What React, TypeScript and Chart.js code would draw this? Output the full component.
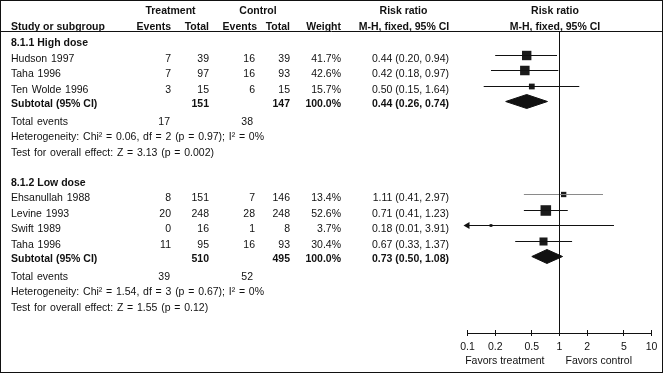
import React, { useEffect, useRef } from "react";
import { Chart, registerables } from "chart.js";

Chart.register(...registerables);

// ---------------- data ----------------
const groupNames = ["8.1.1 High dose", "8.1.2 Low dose"];

const studyNames = [
  "Hudson 1997",
  "Taha 1996",
  "Ten Wolde 1996",
  "Ehsanullah 1988",
  "Levine 1993",
  "Swift 1989",
  "Taha 1996",
];
const studyGroup = [0, 0, 0, 1, 1, 1, 1];
const trtEvents = [7, 7, 3, 8, 20, 0, 11];
const trtTotal = [39, 97, 15, 151, 248, 16, 95];
const ctlEvents = [16, 16, 6, 7, 28, 1, 16];
const ctlTotal = [39, 93, 15, 146, 248, 8, 93];
const weights = [41.7, 42.6, 15.7, 13.4, 52.6, 3.7, 30.4];
const riskRatio = [0.44, 0.42, 0.5, 1.11, 0.71, 0.18, 0.67];
const ciLow = [0.2, 0.18, 0.15, 0.41, 0.41, 0.01, 0.33];
const ciHigh = [0.94, 0.97, 1.64, 2.97, 1.23, 3.91, 1.37];

const subTrtTotal = [151, 510];
const subCtlTotal = [147, 495];
const subWeight = [100.0, 100.0];
const subRR = [0.44, 0.73];
const subLow = [0.26, 0.5];
const subHigh = [0.74, 1.08];
const totTrtEvents = [17, 39];
const totCtlEvents = [38, 52];
const hetChi2 = ["0.06", "1.54"];
const hetDf = [2, 3];
const hetP = ["0.97", "0.67"];
const hetI2 = [0, 0];
const zValue = ["3.13", "1.55"];
const zP = ["0.002", "0.12"];

const axisTicks = [0.1, 0.2, 0.5, 1, 2, 5, 10];
const axisMin = 0.1;
const axisMax = 10;

// ---------------- layout ----------------
const W = 664;
const H = 374;
const PLOT_LEFT = 467.5;
const PLOT_RIGHT = 651.5;
const PLOT_TOP = 31;
const PLOT_BOTTOM = 333;
const ROW0_PX = 39.8;
const ROW_PX = 15.5;
const YMIN = (PLOT_TOP - ROW0_PX) / ROW_PX;
const YMAX = (PLOT_BOTTOM - ROW0_PX) / ROW_PX;
const FONT = "'Liberation Sans', Arial, Helvetica, sans-serif";
const FS = 10.5;
const INK = "#111";

const COL_STUDY = 11;
const COL_TE = 171;
const COL_TT = 209;
const COL_CE = 255;
const COL_CT = 290;
const COL_W = 341;
const COL_RR = 449;

type Row = {
  kind: "group" | "study" | "subtotal" | "total" | "het" | "test";
  g: number;
  i: number;
  pos: number;
};

// snap a row position so that its 1px rules fall on a pixel centre
const snap = (pos: number) => (Math.floor(ROW0_PX + pos * ROW_PX) + 0.5 - ROW0_PX) / ROW_PX;

function buildRows(): Row[] {
  const rows: Row[] = [];
  let pos = 0;
  const add = (kind: Row["kind"], g: number, i: number) => rows.push({ kind, g, i, pos: snap(pos) });
  groupNames.forEach((_, g) => {
    if (g > 0) pos += 1.95;
    add("group", g, -1);
    studyNames.forEach((_, i) => {
      if (studyGroup[i] === g) {
        pos += 1;
        add("study", g, i);
      }
    });
    pos += 0.95;
    add("subtotal", g, -1);
    pos += 1.1;
    add("total", g, -1);
    pos += 1.0;
    add("het", g, -1);
    pos += 1.0;
    add("test", g, -1);
  });
  return rows;
}

const fmtCI = (e: number, l: number, h: number) =>
  `${e.toFixed(2)} (${l.toFixed(2)}, ${h.toFixed(2)})`;

export default function App() {
  const ref = useRef<HTMLCanvasElement>(null);

  useEffect(() => {
    document.body.style.margin = "0";
    const canvas = ref.current;
    if (!canvas) return;
    const rows = buildRows();
    const studyRows = rows.filter((r) => r.kind === "study");
    const subRows = rows.filter((r) => r.kind === "subtotal");

    const datasets: any[] = [];

    // line of no effect
    datasets.push({
      data: [
        { x: 1, y: YMIN },
        { x: 1, y: YMAX },
      ],
      showLine: true,
      borderColor: INK,
      borderWidth: 1,
      pointRadius: 0,
      clip: false,
    });

    // confidence interval lines
    studyRows.forEach((r) => {
      const i = r.i;
      datasets.push({
        data: [
          { x: Math.max(ciLow[i], axisMin), y: r.pos },
          { x: Math.min(ciHigh[i], axisMax), y: r.pos },
        ],
        showLine: true,
        borderColor: studyNames[i] === "Ehsanullah 1988" ? "#8a8a8a" : INK,
        borderWidth: 1,
        pointRadius: 0,
        clip: false,
      });
    });

    // squares
    datasets.push({
      data: studyRows.map((r) => ({ x: riskRatio[r.i], y: r.pos })),
      showLine: false,
      pointStyle: "rect",
      pointRadius: (ctx: any) => Math.sqrt(weights[studyRows[ctx.dataIndex].i]) * 1.03,
      pointBackgroundColor: "#1a1a1a",
      pointBorderWidth: 0,
      pointBorderColor: "#1a1a1a",
      clip: false,
    });

    // arrows for intervals running off the axis
    const offRows = studyRows.filter((r) => ciLow[r.i] < axisMin);
    datasets.push({
      data: offRows.map((r) => ({ x: axisMin, y: r.pos })),
      showLine: false,
      pointStyle: "triangle",
      pointRotation: -90,
      rotation: -90,
      pointRadius: 4,
      pointBackgroundColor: INK,
      pointBorderColor: INK,
      pointBorderWidth: 0,
      clip: false,
    });

    // diamonds
    subRows.forEach((r) => {
      const g = r.g;
      datasets.push({
        data: [
          { x: subLow[g], y: r.pos },
          { x: subRR[g], y: r.pos - 0.45 },
          { x: subHigh[g], y: r.pos },
          { x: subRR[g], y: r.pos + 0.45 },
          { x: subLow[g], y: r.pos },
        ],
        showLine: true,
        fill: "shape",
        backgroundColor: INK,
        borderColor: INK,
        borderWidth: 1,
        pointRadius: 0,
        tension: 0,
        clip: false,
      });
    });

    const tablePlugin = {
      id: "forestTable",
      afterDraw(chart: any) {
        const ctx = chart.ctx as CanvasRenderingContext2D;
        const ys = chart.scales.y;
        const xs = chart.scales.x;
        ctx.save();
        ctx.strokeStyle = INK;
        ctx.lineWidth = 1;
        // outer frame
        ctx.strokeRect(0.5, 0.5, 662, 372);
        // header rule
        ctx.beginPath();
        ctx.moveTo(0, 31.5);
        ctx.lineTo(663, 31.5);
        ctx.stroke();
        // upper half of tick marks
        ctx.beginPath();
        axisTicks.forEach((v) => {
          const px = Math.round(xs.getPixelForValue(v) - 0.5) + 0.5;
          ctx.moveTo(px, PLOT_BOTTOM - 3);
          ctx.lineTo(px, PLOT_BOTTOM);
        });
        ctx.stroke();

        ctx.fillStyle = INK;
        ctx.textBaseline = "alphabetic";
        const bold = `bold ${FS}px ${FONT}`;
        const normal = `${FS}px ${FONT}`;
        const c: any = ctx;
        const txt = (
          s: string,
          x: number,
          y: number,
          align: CanvasTextAlign,
          f: string,
          ws: number = 0
        ) => {
          ctx.font = f;
          ctx.textAlign = align;
          if ("wordSpacing" in c) c.wordSpacing = `${ws}px`;
          ctx.fillText(s, x, y);
        };

        // headers
        txt("Treatment", 170.5, 14, "center", bold);
        txt("Control", 258, 14, "center", bold);
        txt("Risk ratio", 403.5, 14, "center", bold);
        txt("Risk ratio", 555, 14, "center", bold);
        txt("Study or subgroup", COL_STUDY, 30, "left", bold);
        txt("Events", COL_TE, 30, "right", bold);
        txt("Total", COL_TT, 30, "right", bold);
        txt("Events", COL_CE + 2, 30, "right", bold);
        txt("Total", COL_CT, 30, "right", bold);
        txt("Weight", COL_W, 30, "right", bold);
        txt("M-H, fixed, 95% CI", 404, 30, "center", bold);
        txt("M-H, fixed, 95% CI", 555, 30, "center", bold);

        const WS = 0.85;
        rows.forEach((r) => {
          const yp = ys.getPixelForValue(r.pos);
          const g = r.g;
          if (r.kind === "group") {
            txt(groupNames[g], COL_STUDY, yp + 6.5, "left", bold);
          } else if (r.kind === "study") {
            const i = r.i;
            const b = yp + 6.5;
            txt(studyNames[i], COL_STUDY, b, "left", normal, WS);
            txt(String(trtEvents[i]), COL_TE, b, "right", normal);
            txt(String(trtTotal[i]), COL_TT, b, "right", normal);
            txt(String(ctlEvents[i]), COL_CE, b, "right", normal);
            txt(String(ctlTotal[i]), COL_CT, b, "right", normal);
            txt(`${weights[i].toFixed(1)}%`, COL_W, b, "right", normal);
            txt(fmtCI(riskRatio[i], ciLow[i], ciHigh[i]), COL_RR, b, "right", normal);
          } else if (r.kind === "subtotal") {
            const b = yp + 5.5;
            txt("Subtotal (95% CI)", COL_STUDY, b, "left", bold);
            txt(String(subTrtTotal[g]), COL_TT, b, "right", bold);
            txt(String(subCtlTotal[g]), COL_CT, b, "right", bold);
            txt(`${subWeight[g].toFixed(1)}%`, COL_W, b, "right", bold);
            txt(fmtCI(subRR[g], subLow[g], subHigh[g]), COL_RR, b, "right", bold);
          } else if (r.kind === "total") {
            const b = yp + 6.5;
            txt("Total events", COL_STUDY, b, "left", normal, WS);
            txt(String(totTrtEvents[g]), COL_TE - 1, b, "right", normal);
            txt(String(totCtlEvents[g]), COL_CE - 2, b, "right", normal);
          } else if (r.kind === "het") {
            txt(
              `Heterogeneity: Chi² = ${hetChi2[g]}, df = ${hetDf[g]} (p = ${hetP[g]}); I² = ${hetI2[g]}%`,
              COL_STUDY,
              yp + 6.5,
              "left",
              normal,
              WS
            );
          } else if (r.kind === "test") {
            txt(
              `Test for overall effect: Z = ${zValue[g]} (p = ${zP[g]})`,
              COL_STUDY,
              yp + 6.5,
              "left",
              normal,
              WS
            );
          }
        });

        // favours labels
        const x1 = xs.getPixelForValue(1);
        txt("Favors treatment", x1 - 15, 364, "right", normal);
        txt("Favors control", x1 + 6, 364, "left", normal);
        ctx.restore();
      },
    };

    const chart = new Chart(canvas, {
      type: "scatter",
      data: { datasets },
      options: {
        responsive: false,
        animation: false,
        devicePixelRatio: 1,
        events: [],
        layout: {
          padding: { left: PLOT_LEFT, right: W - PLOT_RIGHT, top: PLOT_TOP, bottom: 0 },
        },
        plugins: {
          legend: { display: false },
          tooltip: { enabled: false },
          title: { display: false },
        },
        scales: {
          x: {
            type: "logarithmic",
            position: "bottom",
            min: axisMin,
            max: axisMax,
            afterBuildTicks: (s: any) => {
              s.ticks = axisTicks.map((v) => ({ value: v }));
            },
            afterFit: (s: any) => {
              s.height = H - PLOT_BOTTOM;
            },
            grid: {
              drawOnChartArea: false,
              drawTicks: true,
              tickLength: 3,
              color: INK,
              tickColor: INK,
              lineWidth: 1,
            },
            border: { display: true, color: INK, width: 1 },
            ticks: {
              autoSkip: false,
              maxRotation: 0,
              minRotation: 0,
              padding: 5,
              color: INK,
              font: { size: FS, family: FONT },
              callback: (v: any) => String(v),
            },
          },
          y: {
            type: "linear",
            display: false,
            reverse: true,
            min: YMIN,
            max: YMAX,
          },
        },
      } as any,
      plugins: [tablePlugin],
    });
    return () => chart.destroy();
  }, []);

  return (
    <canvas
      ref={ref}
      width={W}
      height={H}
      style={{ display: "block", width: W, height: H, background: "#fff" }}
    />
  );
}
